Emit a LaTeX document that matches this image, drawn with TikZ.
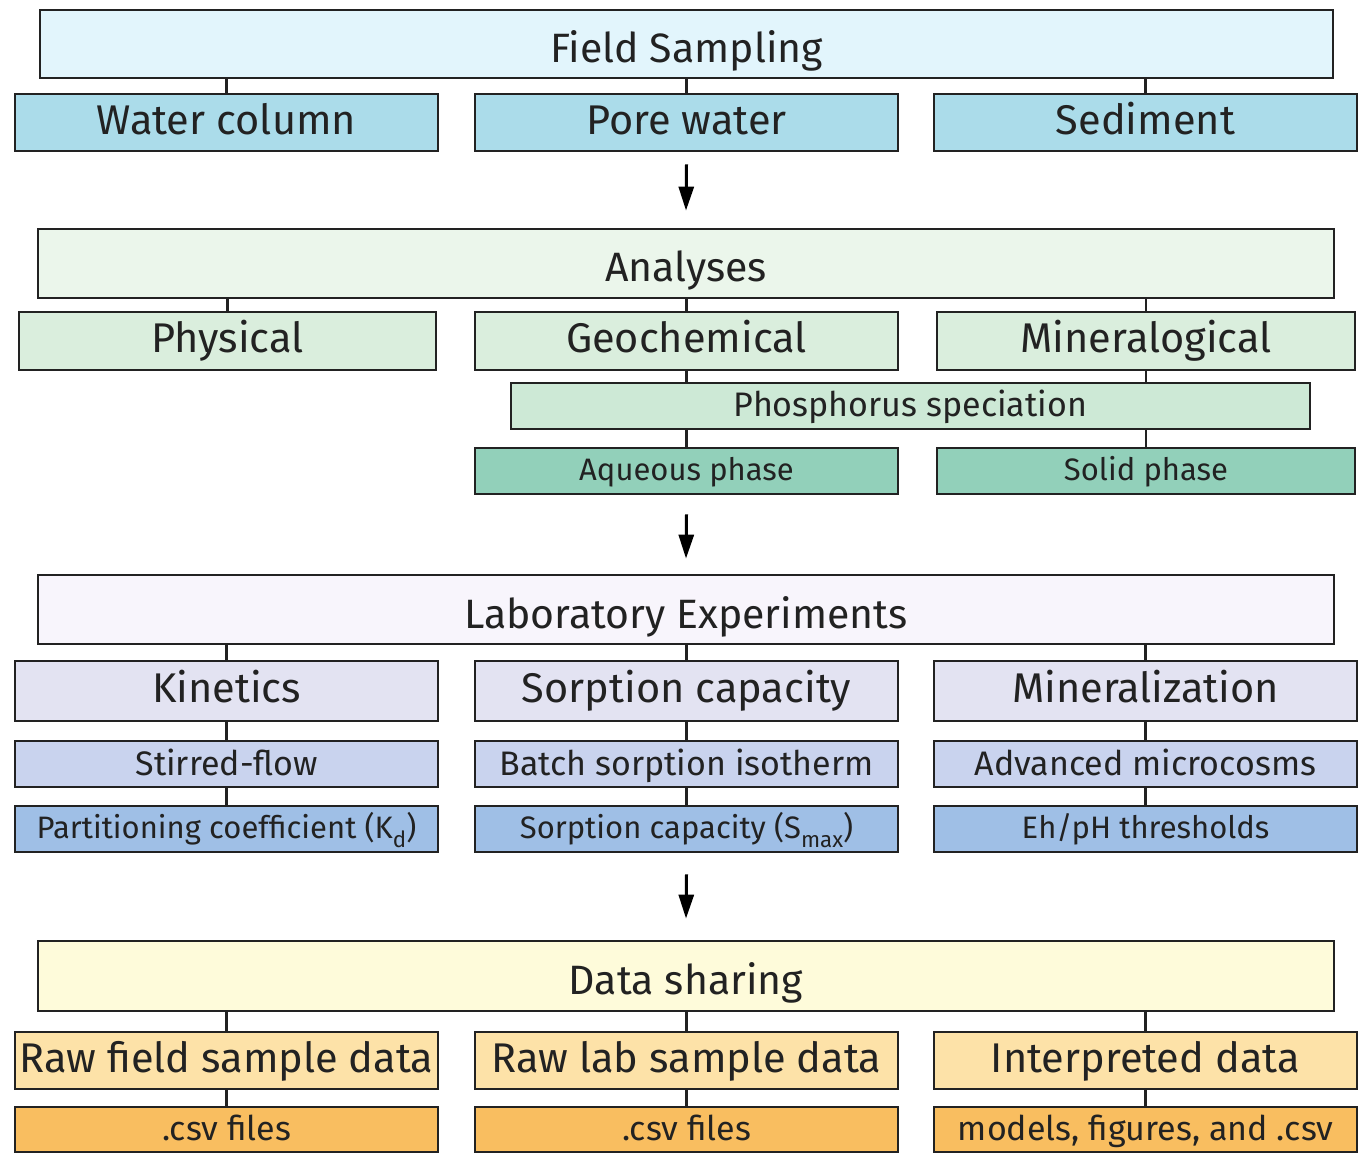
\documentclass[tikz,border=0pt]{standalone}
\usepackage{fontspec}
\setmainfont{Fira Sans}
\usetikzlibrary{arrows.meta,calc}
\definecolor{txt}{HTML}{222222}
\definecolor{fieldHead}{HTML}{E2F5FC}
\definecolor{fieldSub}{HTML}{ABDCEA}
\definecolor{anHead}{HTML}{EBF6EB}
\definecolor{anSub}{HTML}{DAEEDD}
\definecolor{anPhos}{HTML}{CDE9D6}
\definecolor{anPhase}{HTML}{92D0BA}
\definecolor{labHead}{HTML}{F8F5FC}
\definecolor{labSub}{HTML}{E3E3F2}
\definecolor{labMid}{HTML}{C9D3EE}
\definecolor{labLow}{HTML}{9FBFE6}
\definecolor{dataHead}{HTML}{FEFBDA}
\definecolor{dataSub}{HTML}{FDE2A8}
\definecolor{dataLow}{HTML}{F9BE60}
\newcommand{\lowtext}[1]{\raisebox{-0.28em}{\fontsize{0.72em}{0.8em}\selectfont #1}}
\tikzset{
  box/.style={draw=txt, line width=2.8pt, rectangle, inner sep=0pt, text=txt},
  head/.style={box, minimum height=69pt, font=\fontsize{41}{46}\selectfont,
    text height=37pt, text depth=0pt},
  sub/.style={box, minimum width=423pt, font=\fontsize{41.5}{46}\selectfont,
    text height=28.6pt, text depth=5.5pt},
  small/.style={box, minimum width=423pt, minimum height=46pt, font=\fontsize{34}{38}\selectfont,
    text height=23.4pt, text depth=1.4pt},
  smaller/.style={small, font=\fontsize{31}{36}\selectfont,
    text height=21.4pt, text depth=1.6pt},
  link/.style={draw=txt, line width=2.8pt},
  flow/.style={draw=black, line width=3pt, -{Triangle[length=24pt,width=15pt]}}
}
\begin{document}
\begin{tikzpicture}[x=1pt,y=-1pt]
\useasboundingbox[fill=white] (0,0) rectangle (1366,1155);

% Field sampling block
\node[head, fill=fieldHead, minimum width=1293pt, minimum height=68pt] (field) at (686.5,44) {Field Sampling};
\node[sub, fill=fieldSub, minimum height=57pt] (water) at (226.5,122.5) {Water column};
\node[sub, fill=fieldSub, minimum height=57pt] (pore) at (686.5,122.5) {Pore water};
\node[sub, fill=fieldSub, minimum height=57pt] (sed) at (1145.5,122.5) {Sediment};
\foreach \c in {water,pore,sed} \draw[link] (\c.north) -- (\c.north |- field.south);

% Analyses block
\node[head, fill=anHead, minimum width=1296pt] (anal) at (686,263.5) {Analyses};
\node[sub, fill=anSub, minimum width=417pt, minimum height=58pt] (phys) at (227.5,341) {Physical};
\node[sub, fill=anSub, minimum height=58pt] (geo) at (686.5,341) {Geochemical};
\node[sub, fill=anSub, minimum width=418pt, minimum height=58pt] (mine) at (1146,341) {Mineralogical};
\foreach \c in {phys,geo,mine} \draw[link] (\c.north) -- (\c.north |- anal.south);
\node[small, fill=anPhos, minimum width=799pt] (phos) at (910.5,406) {Phosphorus speciation};
\draw[link] (geo.south) -- (geo.south |- phos.north);
\draw[link] (mine.south) -- (mine.south |- phos.north);
\node[smaller, fill=anPhase] (aq) at (686.5,471) {Aqueous phase};
\node[smaller, fill=anPhase, minimum width=418pt] (solid) at (1146,471) {Solid phase};
\foreach \c in {aq,solid} \draw[link] (\c.north) -- (\c.north |- phos.south);

% Laboratory experiments block
\node[head, fill=labHead, minimum width=1296pt] (lab) at (686,609.5) {Laboratory Experiments};
\node[sub, fill=labSub, minimum height=60pt] (kin) at (226.5,691) {Kinetics};
\node[sub, fill=labSub, minimum height=60pt] (sorp) at (686.5,691) {Sorption capacity};
\node[sub, fill=labSub, minimum height=60pt] (minz) at (1145.5,691) {Mineralization};
\foreach \c in {kin,sorp,minz} \draw[link] (\c.north) -- (\c.north |- lab.south);
\node[small, fill=labMid] (stir) at (226.5,764) {Stirred-flow};
\node[small, fill=labMid] (batch) at (686.5,764) {Batch sorption isotherm};
\node[small, fill=labMid] (micro) at (1145.5,764) {Advanced microcosms};
\node[smaller, fill=labLow] (kd) at (226.5,829) {Partitioning coefficient (K\lowtext{d})};
\node[smaller, fill=labLow] (smax) at (686.5,829) {Sorption capacity (S\lowtext{max})};
\node[smaller, fill=labLow] (ehph) at (1145.5,829) {Eh/pH thresholds};
\draw[link] (kin) -- (stir);
\draw[link] (sorp) -- (batch);
\draw[link] (minz) -- (micro);
\draw[link] (stir) -- (kd);
\draw[link] (batch) -- (smax);
\draw[link] (micro) -- (ehph);

% Data sharing block
\node[head, fill=dataHead, minimum width=1296pt, minimum height=70pt] (data) at (686,976) {Data sharing};
\node[sub, fill=dataSub, minimum height=57pt] (rawf) at (226.5,1060.5) {Raw field sample data};
\node[sub, fill=dataSub, minimum height=57pt] (rawl) at (686.5,1060.5) {Raw lab sample data};
\node[sub, fill=dataSub, minimum height=57pt] (interp) at (1145.5,1060.5) {Interpreted data};
\foreach \c in {rawf,rawl,interp} \draw[link] (\c.north) -- (\c.north |- data.south);
\node[small, fill=dataLow, minimum height=45pt] (csvf) at (226.5,1129.5) {.csv files};
\node[small, fill=dataLow, minimum height=45pt] (csvl) at (686.5,1129.5) {.csv files};
\node[small, fill=dataLow, minimum height=45pt] (mods) at (1145.5,1129.5) {models, figures, and .csv};
\draw[link] (rawf) -- (csvf);
\draw[link] (rawl) -- (csvl);
\draw[link] (interp) -- (mods);

% Flow between the stages
\draw[flow] ($(pore.south)+(0,12)$) -- ($(anal.north)+(0,-17)$);
\draw[flow] ($(aq.south)+(0,19)$) -- ($(lab.north)+(0,-15)$);
\draw[flow] ($(sorp.south |- smax.south)+(0,21)$) -- ($(data.north)+(0,-21)$);
\end{tikzpicture}
\end{document}
